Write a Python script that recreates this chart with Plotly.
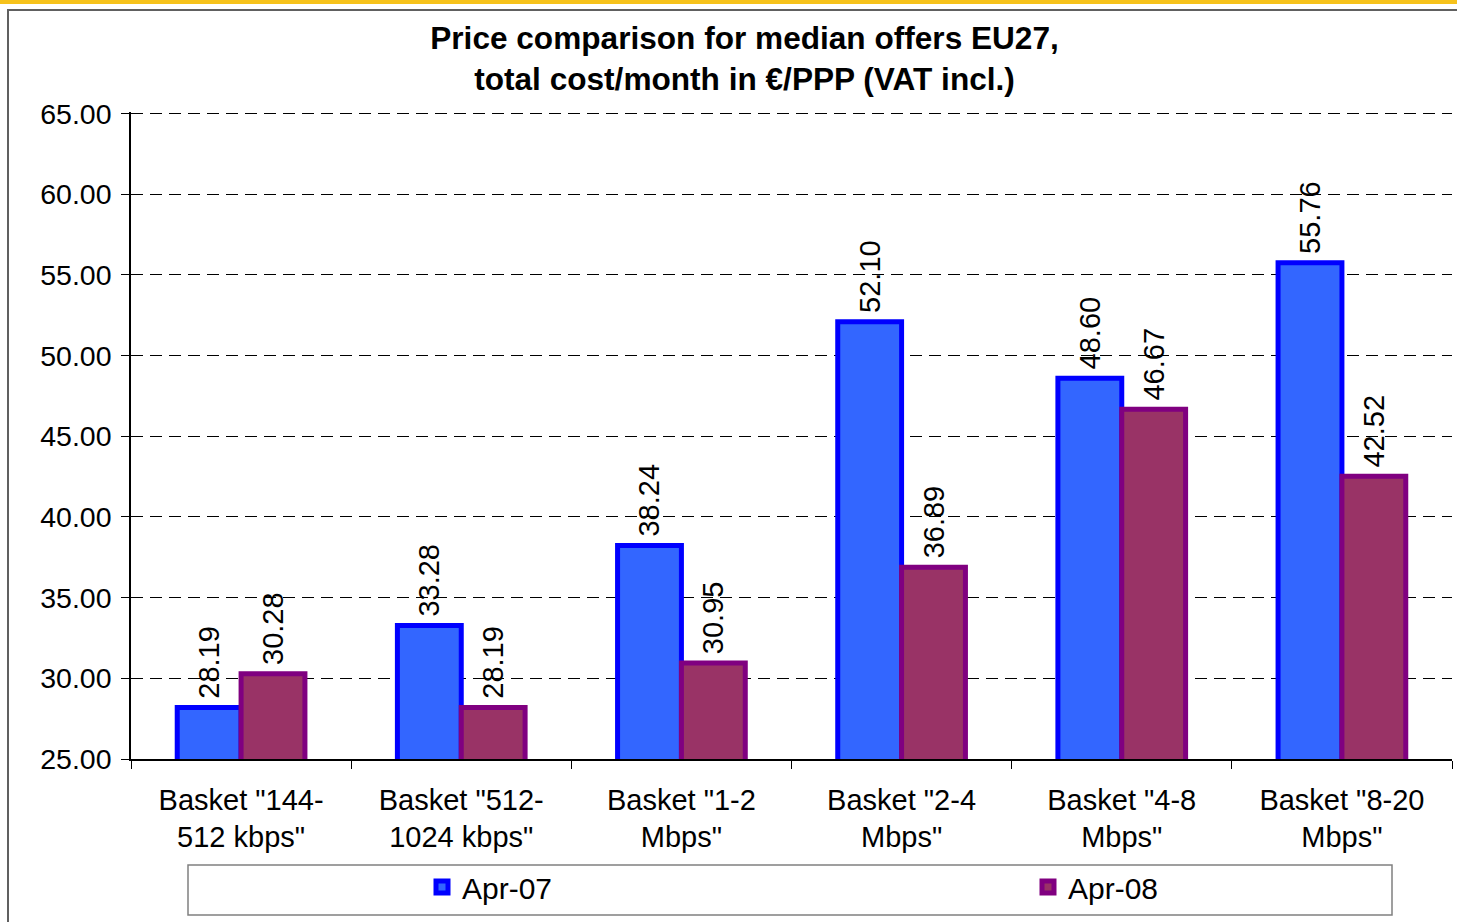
import plotly.graph_objects as go

# data
categories = ['Basket "144-<br>512 kbps"', 'Basket "512-<br>1024 kbps"', 'Basket "1-2<br>Mbps"',
              'Basket "2-4<br>Mbps"', 'Basket "4-8<br>Mbps"', 'Basket "8-20<br>Mbps"']
apr07 = [28.19, 33.28, 38.24, 52.10, 48.60, 55.76]
apr08 = [30.28, 28.19, 30.95, 36.89, 46.67, 42.52]
series_names = ['Apr-07', 'Apr-08']

# colours
blue_fill, blue_line = '#3366FF', '#0000FF'
purp_fill, purp_line = '#993366', '#800080'

W, H = 1457, 922
ML, MR, MT, MB = 131, 5, 112, 163
font = 'Liberation Sans, Arial, sans-serif'


def px_x(p):
    return (p - ML) / (W - ML - MR)


def px_y(p):
    return (H - MB - p) / (H - MT - MB)


fig = go.Figure()
for i, (name, vals, fc, lc) in enumerate([(series_names[0], apr07, blue_fill, blue_line),
                                          (series_names[1], apr08, purp_fill, purp_line)]):
    fig.add_trace(go.Bar(
        x=categories, y=vals, name=name,
        legend='legend' if i == 0 else 'legend2',
        marker=dict(color=fc, line=dict(color=lc, width=5)),
        texttemplate='\u2009%{y:.2f}', textposition='outside', textangle=-90,
        constraintext='none', cliponaxis=False,
        textfont=dict(size=29, color='black', family=font),
    ))

leg = dict(orientation='h', y=px_y(887), xanchor='left', yanchor='middle',
           bgcolor='rgba(0,0,0,0)', font=dict(size=30, family=font))

fig.update_layout(
    width=W, height=H,
    margin=dict(l=ML, r=MR, t=MT, b=MB),
    paper_bgcolor='white', plot_bgcolor='white',
    barmode='group', bargap=0.42, bargroupgap=0,
    font=dict(family=font, size=28.5, color='black'),
    title=dict(text='<b>Price comparison for median offers EU27,<br>total cost/month in €/PPP (VAT incl.)</b>',
               x=0.511, xanchor='center', y=1 - 49 / H, yanchor='middle',
               font=dict(size=31.6, family=font, color='black')),
    legend=dict(leg, x=px_x(422)),
    legend2=dict(leg, x=px_x(1028)),
    showlegend=True,
)

fig.update_yaxes(range=[25, 65.1], dtick=5, tickformat='.2f', showgrid=True,
                 gridcolor='black', griddash='12px,7px', gridwidth=1.2,
                 showline=True, linecolor='black', linewidth=1.5,
                 ticks='outside', ticklen=8, tickcolor='black', ticklabelstandoff=4,
                 zeroline=False)
fig.update_xaxes(showline=True, linecolor='black', linewidth=1.5, tickson='boundaries',
                 ticks='outside', ticklen=8, tickcolor='black', showgrid=False,
                 ticklabelstandoff=14, tickfont=dict(size=29))

# decorations: yellow strip, outer frame, legend box
fig.add_shape(type='rect', xref='paper', yref='paper', x0=px_x(0), x1=px_x(W), y0=px_y(4), y1=px_y(0),
              fillcolor='#F6C21B', line=dict(width=0), layer='below')
fig.add_shape(type='rect', xref='paper', yref='paper', x0=px_x(8), x1=px_x(W + 20), y0=px_y(H + 20), y1=px_y(10),
              fillcolor='rgba(0,0,0,0)', line=dict(color='#606060', width=2), layer='below')
fig.add_shape(type='rect', xref='paper', yref='paper', x0=px_x(188), x1=px_x(1392), y0=px_y(915), y1=px_y(865),
              fillcolor='rgba(0,0,0,0)', line=dict(color='#808080', width=1.5), layer='below')

fig.write_html('out.html', config={'displayModeBar': False},
               post_script="document.body.style.margin='0';document.body.style.overflow='hidden';")
